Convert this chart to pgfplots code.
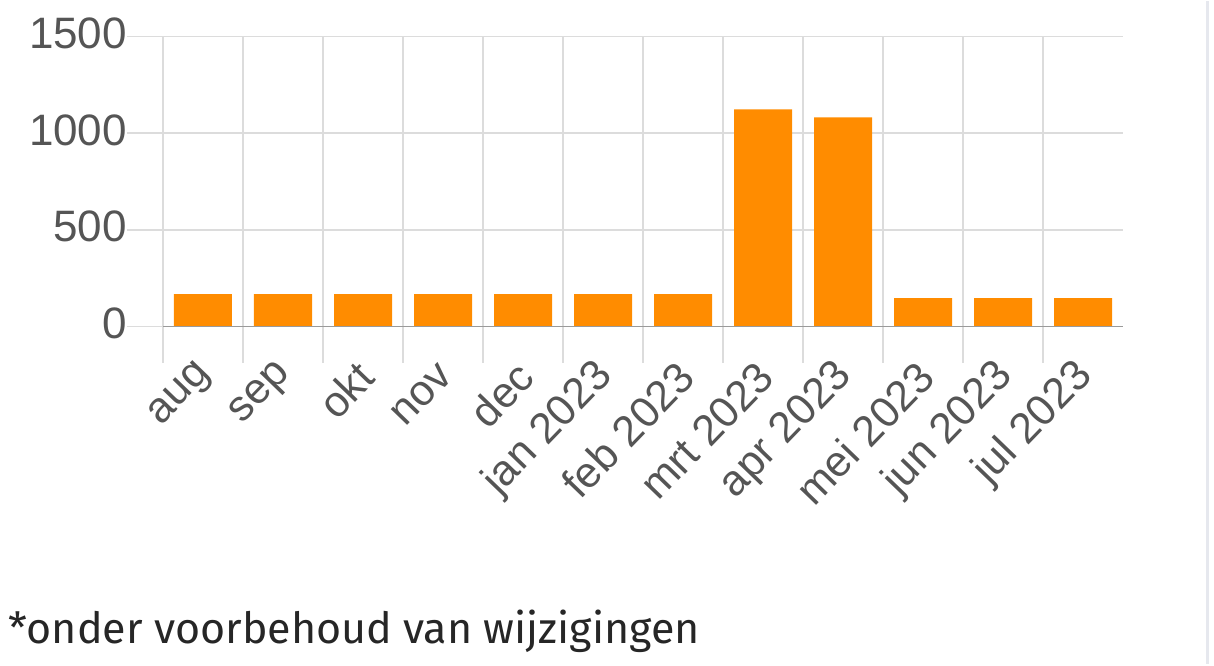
\documentclass[border=0pt]{standalone}
\usepackage{fontspec}
\setmainfont{Liberation Sans}
\newfontfamily\notefont{Fira Sans}
\usepackage{pgfplots}
\pgfplotsset{compat=1.18}

\definecolor{bar}{HTML}{FF8C00}
\definecolor{gridc}{HTML}{DCDCDC}
\definecolor{basec}{HTML}{9A9A9A}
\definecolor{labc}{HTML}{555555}
\definecolor{edge}{HTML}{E6E8EE}

\pgfplotstableread{
x    v
0.5  168
1.5  168
2.5  168
3.5  168
4.5  168
5.5  168
6.5  168
7.5  1123
8.5  1082
9.5  147
10.5 147
11.5 147
}\counts

\begin{document}
\begin{tikzpicture}
\begin{axis}[
    at={(0,0)}, anchor=south west,
    width=480pt, height=145pt, scale only axis,
    xmin=0, xmax=12, ymin=0, ymax=1500,
    axis line style={draw=none},
    xtick={0,...,11}, xticklabels={},
    ytick={0,500,1000,1500},
    xmajorgrids, ymajorgrids,
    grid style={gridc, line width=0.75pt},
    tick style={gridc, line width=0.75pt},
    tick align=outside,
    major tick length=18pt,
    xtick pos=bottom, ytick pos=left,
    extra x ticks={0.5,1.5,...,11.5},
    extra x tick labels={aug,sep,okt,nov,dec,jan 2023,feb 2023,mrt 2023,apr 2023,mei 2023,jun 2023,jul 2023},
    extra x tick style={grid=none, major tick length=0pt,
        tick label style={rotate=46, anchor=east, xshift=-11pt, yshift=-16pt}},
    /pgf/number format/assume math mode=true,
    /pgf/number format/1000 sep={},
    yticklabel style={font=\fontsize{22}{24}\selectfont, color=labc, xshift=3.5pt, yshift=1.5pt},
    xticklabel style={font=\fontsize{21.5}{23}\selectfont, color=labc},
]
\addplot[ybar, bar width=0.725, fill=bar, draw=none] table[x=x, y=v] {\counts};
\draw[basec, line width=1pt] (axis cs:0,0) -- (axis cs:12,0);
\end{axis}
\draw[edge, line width=1.5pt] (522pt,-168.5pt) -- (522pt,162.5pt);
\node[anchor=base west, inner sep=0pt, font=\notefont\fontsize{21.5}{26}\selectfont, color=black!85] at (-77.5pt,-158.5pt) {*onder voorbehoud van wijzigingen};
\path[use as bounding box] (-81.5pt,-168.5pt) rectangle (525.5pt,162.5pt);
\end{tikzpicture}
\end{document}
